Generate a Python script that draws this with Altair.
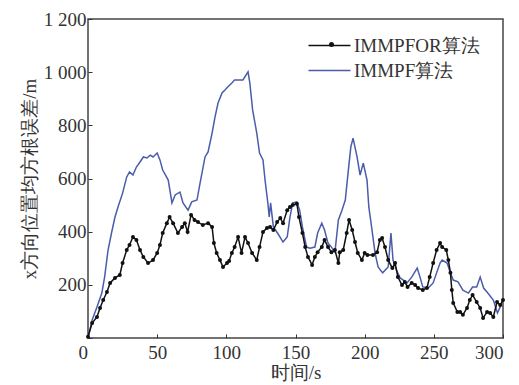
import altair as alt
import pandas as pd

series_names = ["IMMPFOR算法", "IMMPF算法"]
series_colors = ["#111111", "#4b5cab"]

t_immpfor = [0, 3, 6.5, 8.7, 11, 13.7, 16, 19.5, 23, 25, 28, 30, 32.5, 35, 37.6, 40, 43.4, 47, 50, 52,
             54, 57, 59, 61.5, 65, 68, 70, 72, 74.5, 77, 79.5, 83, 86.8, 89.7, 91, 93, 95.4, 97.6, 100.5,
             102, 104, 106, 108.5, 111, 113.5, 115.7, 118.6, 122, 124, 126.5, 129.4, 131.6, 134, 136.7,
             139, 141, 144, 146, 148, 151, 152.5, 155, 157, 159, 162, 164, 166, 169, 171, 173.5, 176,
             178.5, 181, 182, 184.5, 187, 188.7, 191, 193, 195, 198, 200, 202, 206, 209, 211, 212.6,
             214.7, 217, 220, 222, 224, 227, 229, 231, 234, 236.5, 238.6, 242, 245, 247, 249.5, 252,
             254.5, 256, 259, 260.5, 262, 263, 264, 267, 269, 271, 274, 276, 278, 281, 283.5, 285.6,
             288.5, 290.7, 293, 295.7, 298, 300]
v_immpfor = [5, 56, 79, 113, 143, 173, 207, 226, 237, 282, 331, 350, 380, 369, 331, 305, 282, 293, 320, 350,
             395, 432, 455, 432, 395, 418, 432, 399, 463, 444, 436, 425, 432, 418, 357, 320, 293, 267, 282,
             290, 320, 342, 380, 320, 380, 357, 320, 293, 342, 399, 414, 418, 406, 436,
             451, 432, 481, 493, 500, 505, 455, 395, 342, 305, 275, 305, 323, 342, 369, 342, 323,
             331, 282, 323, 331, 395, 444, 406, 361, 320, 293, 320, 312, 312, 323, 369, 376,
             342, 293, 263, 282, 229, 199, 211, 192, 207, 199, 188, 181, 188, 229, 282, 331,
             357, 342, 331, 293, 245, 181, 132, 98, 98, 87, 113, 143, 162, 135, 113, 75,
             98, 94, 79, 135, 124, 143]

t_immpf = [0, 3, 6.5, 10, 12, 14.5, 17, 19.5, 21.7, 25, 28, 30, 32.5, 35, 37.6, 40, 42.6, 45, 47, 50,
           52, 54, 58, 60.7, 63, 66.5, 68.7, 72.3, 75, 78.8, 81, 84.6, 86.8, 89.7, 91.8, 94, 96.9, 99,
           101, 104, 106, 110, 112, 115.7, 117, 119, 122, 124, 126.5, 128, 130, 131, 132, 134, 137,
           141, 144, 146, 148, 151, 153, 155, 158, 160.5, 164, 166, 169, 171, 173.5, 176, 178.5, 181,
           183.6, 186, 188, 190, 191.6, 194.5, 196.7, 199, 201.7, 203, 205, 207.5, 209.7, 213, 217,
           219, 220.5, 223, 225.6, 228, 230.6, 234, 238, 240, 242, 246, 249.5, 252, 254.5, 256, 259.6,
           262, 264, 267.5, 271, 275, 278, 281, 283.5, 286, 289, 293, 296, 298, 300]
v_immpf = [0, 68, 117, 169, 229, 331, 395, 455, 493, 545, 606, 625, 613, 643, 662, 681, 677, 688, 681, 696,
           670, 632, 594, 508, 538, 549, 508, 481, 512, 519, 583, 681, 700, 771, 831, 884, 922, 933,
           944, 959, 971, 971, 971, 1001, 959, 858, 771, 696, 670, 594, 508, 455, 508, 418, 395,
           361, 380, 455, 508, 512, 481, 418, 342, 338, 342, 395, 432, 406, 357, 342, 323, 444,
           481, 519, 621, 719, 752, 681, 613, 658, 594, 493, 418, 320, 267, 245, 267,
           395, 293, 256, 226, 218, 207, 229, 263, 229, 192, 188, 207, 245, 282, 293, 282,
           245, 218, 211, 180, 169, 192, 192, 229, 188, 169, 143, 94, 117, 143]

x_ticks = [0, 50, 100, 150, 200, 250, 300]
y_ticks = [0, 200, 400, 600, 800, 1000, 1200]

df_for = pd.DataFrame({"t": t_immpfor, "v": v_immpfor, "series": series_names[0], "marker": series_names[0]})
df_pf = pd.DataFrame({"t": t_immpf, "v": v_immpf, "series": series_names[1], "marker": series_names[1]})
df = pd.concat([df_pf, df_for], ignore_index=True)
df["ord"] = range(len(df))

serif = "Liberation Serif"

x_enc = alt.X("t:Q", scale=alt.Scale(domain=[0, 300], nice=False),
              axis=alt.Axis(values=x_ticks, title="时间/s", grid=False, domain=False,
                            tickSize=4, offset=-4, labelPadding=5, tickColor="#333",
                            labelOffset={"condition": {"test": "datum.value == 0", "value": -10}, "value": 0},
                            labelFont=serif, labelFontSize=19, labelColor="#333",
                            titleFont=serif, titleFontSize=19, titleFontWeight="normal",
                            titleColor="#333", titlePadding=1))
y_enc = alt.Y("v:Q", scale=alt.Scale(domain=[0, 1200], nice=False),
              axis=alt.Axis(values=y_ticks, title="x方向位置均方根误差/m", grid=False, domain=False,
                            tickSize=4, offset=-4, labelPadding=2, tickColor="#333",
                            labelExpr="datum.value == 0 ? '' : (datum.value >= 1000 ? floor(datum.value/1000) + ' ' + format(datum.value % 1000, '03d') : format(datum.value, 'd'))",
                            labelFont=serif, labelFontSize=19, labelColor="#333",
                            titleFont=serif, titleFontSize=19, titleFontWeight="normal",
                            titleColor="#333", titlePadding=4))

lines = alt.Chart(df).mark_line(strokeWidth=1.5).encode(
    x=x_enc, y=y_enc,
    color=alt.Color("series:N", scale=alt.Scale(domain=series_names, range=series_colors),
                    legend=alt.Legend(orient="none", legendX=230, legendY=15, title=None,
                                      symbolType="M-2,0H2", symbolSize=441, symbolStrokeWidth=1.5,
                                      labelFont=serif, labelFontSize=19, labelColor="#333",
                                      labelOffset=13, rowPadding=3, padding=0)),
    order=alt.Order("ord:Q"),
)

points = alt.Chart(df_for).mark_point(filled=True, size=16, opacity=1).encode(
    x=alt.X("t:Q"), y=alt.Y("v:Q"),
    color=alt.value("#111111"),
    shape=alt.Shape("marker:N", scale=alt.Scale(domain=[series_names[0]], range=["circle"]),
                    legend=alt.Legend(orient="none", legendX=234, legendY=16, title=None,
                                      symbolSize=25, symbolFillColor="#111111",
                                      symbolStrokeColor="#111111", labelExpr="''",
                                      labelFontSize=19, padding=0)),
)

chart = alt.layer(lines, points).properties(
    width=415, height=319,
    autosize=alt.AutoSizeParams(type="none"),
    padding={"left": 88, "top": 19, "right": 16, "bottom": 47},
    background="white",
).configure_view(stroke="#444", strokeWidth=1.5)

chart.save("out.html", embed_options={"renderer": "svg", "actions": False})
